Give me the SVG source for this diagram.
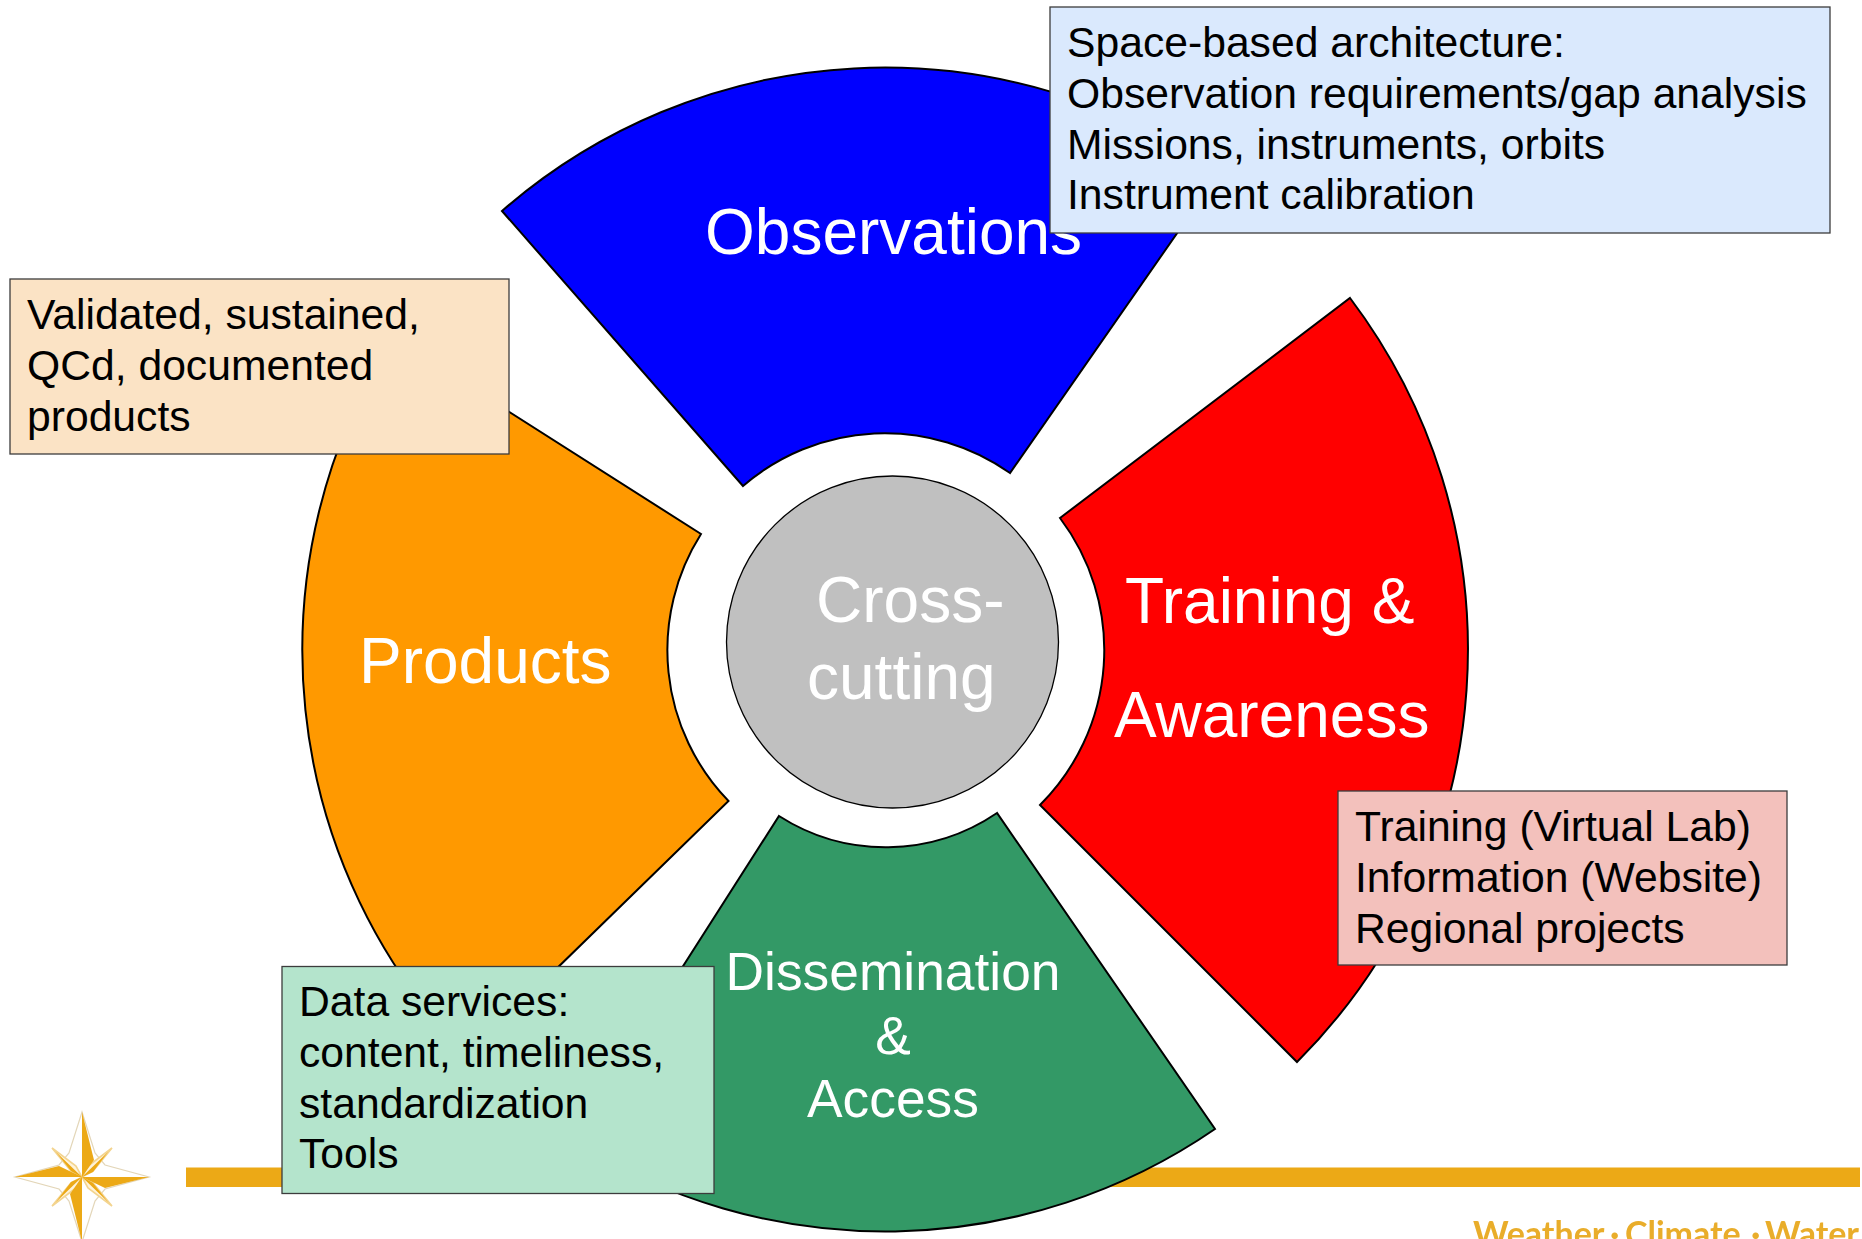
<svg xmlns="http://www.w3.org/2000/svg" width="1862" height="1239" viewBox="0 0 1862 1239">
<defs>
<filter id="soft" x="-5%" y="-5%" width="110%" height="110%"><feGaussianBlur stdDeviation="0.7"/></filter>
</defs>
<style>
text{font-family:"Liberation Sans",Arial,sans-serif}
.big{font-size:64px;fill:#fff}
.mid{font-size:53.33px;fill:#fff;text-anchor:middle}
.note{font-size:42.67px;fill:#000}
.sec{stroke:#000;stroke-width:2}
.box{stroke:#3c3c3c;stroke-width:1.3}
.gold{fill:#eca918}
.foot{font-size:34px;font-weight:bold;fill:#e9ad2c;font-family:Lato,sans-serif}
</style>
<rect width="1862" height="1239" fill="#fff"/>
<g id="footer" filter="url(#soft)">
<rect class="gold" x="186" y="1167.5" width="1674" height="19.5"/>
<g id="star">
<path fill="#fff" stroke="#e3d6b8" stroke-width="1.2" d="M82 1112L95 1153L105 1165L149 1177L105 1189L95 1201L82 1242L69 1201L59 1189L15 1177L59 1165L69 1153Z"/>
<path fill="#fff3d8" stroke="#f3d48f" stroke-width="1.6" d="M112 1148L93 1171L82 1177L88 1166ZM112 1206L88 1188L82 1177L93 1183ZM52 1206L71 1183L82 1177L76 1188ZM52 1148L76 1166L82 1177L71 1171Z"/>
<path class="gold" d="M82 1112L94 1160L82 1177ZM149 1177L105 1188L82 1177ZM82 1242L70 1194L82 1177ZM15 1177L59 1166L82 1177ZM108 1152L93 1172L82 1177ZM108 1202L93 1183L82 1177ZM56 1202L71 1182L82 1177ZM56 1152L71 1171L82 1177Z"/>
</g>
<text class="foot" y="1246"><tspan x="1473">Weather</tspan><tspan x="1610">·</tspan><tspan x="1625">Climate</tspan><tspan x="1751">·</tspan><tspan x="1765">Water</tspan></text>
</g>
<g id="observations">
<path class="sec" fill="#0000ff" d="M502 211A582.5 582.5 0 0 1 1219 173L1010 473A217 217 0 0 0 743 486Z"/>
<text class="big" x="705" y="254">Observations</text>
</g>
<g id="training">
<path class="sec" fill="#ff0000" d="M1060 518L1350 298A583 583 0 0 1 1297 1062L1040 805A219 219 0 0 0 1060 518Z"/>
<text class="big" x="1125" y="623">Training &amp;</text>
<text class="big" x="1114" y="737">Awareness</text>
</g>
<g id="dissemination">
<path class="sec" fill="#339966" d="M779 816A198 198 0 0 0 997 813L1215 1129A582 582 0 0 1 572 1140Z"/>
<text class="mid" x="893" y="990">Dissemination</text>
<text class="mid" x="893" y="1054">&amp;</text>
<text class="mid" x="893" y="1117">Access</text>
</g>
<g id="products">
<path class="sec" fill="#ff9900" d="M701 534A217 217 0 0 0 728.5 801L467 1056A582.5 582.5 0 0 1 393 338Z"/>
<text class="big" x="359" y="683">Products</text>
</g>
<g id="crosscutting">
<circle cx="892.5" cy="642" r="166" fill="#c0c0c0" stroke="#000" stroke-width="1.3"/>
<text class="big" x="816" y="622">Cross-</text>
<text class="big" x="807" y="699">cutting</text>
</g>
<g id="note-observations">
<rect class="box" x="1050" y="7" width="780" height="226" fill="#dae9fd"/>
<text class="note" x="1067" y="57">Space-based architecture:</text>
<text class="note" x="1067" y="108">Observation requirements/gap analysis</text>
<text class="note" x="1067" y="159">Missions, instruments, orbits</text>
<text class="note" x="1067" y="209">Instrument calibration</text>
</g>
<g id="note-products">
<rect class="box" x="10" y="279" width="499" height="175" fill="#fbe3c5"/>
<text class="note" x="27" y="329">Validated, sustained,</text>
<text class="note" x="27" y="380">QCd, documented</text>
<text class="note" x="27" y="431">products</text>
</g>
<g id="note-training">
<rect class="box" x="1338" y="791" width="449" height="174" fill="#f3c1bc"/>
<text class="note" x="1355" y="841">Training (Virtual Lab)</text>
<text class="note" x="1355" y="892">Information (Website)</text>
<text class="note" x="1355" y="943">Regional projects</text>
</g>
<g id="note-dissemination">
<rect class="box" x="282" y="966.5" width="432" height="227" fill="#b4e4cc"/>
<text class="note" x="299" y="1016">Data services:</text>
<text class="note" x="299" y="1067">content, timeliness,</text>
<text class="note" x="299" y="1118">standardization</text>
<text class="note" x="299" y="1168">Tools</text>
</g>
</svg>
